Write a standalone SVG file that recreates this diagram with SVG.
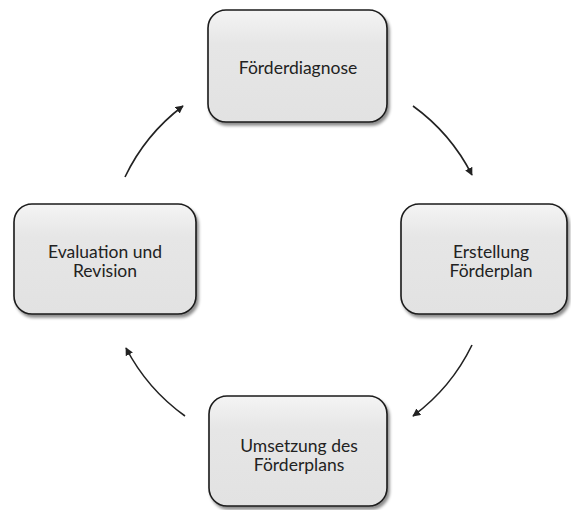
<svg xmlns="http://www.w3.org/2000/svg" width="571" height="510" viewBox="0 0 571 510">
<style>
.box{fill:url(#g);stroke:#1a1a1a;stroke-width:1.6;filter:url(#sh)}
.lbl{font-family:Lato,"Liberation Sans",sans-serif;font-size:17.5px;fill:#222;text-anchor:middle}
.arr{fill:none;stroke:#222;stroke-width:1.6;marker-end:url(#ah)}
</style>
<defs>
<linearGradient id="g" x1="0" y1="0" x2="0" y2="1">
<stop offset="0" stop-color="#f4f4f4"/>
<stop offset="0.3" stop-color="#e6e6e6"/>
<stop offset="1" stop-color="#e2e2e2"/>
</linearGradient>
<filter id="sh" x="-10%" y="-10%" width="125%" height="130%">
<feDropShadow dx="2" dy="3" stdDeviation="1.5" flood-color="#000" flood-opacity="0.45"/>
</filter>
<marker id="ah" viewBox="0 0 10 10" refX="9" refY="5" markerWidth="5" markerHeight="5" orient="auto" markerUnits="strokeWidth">
<path d="M0,0 L10,5 L0,10 z" fill="#222"/>
</marker>
</defs>
<g id="connectors">
<path class="arr" d="M413,106 A193,193 0 0 1 472,175"/>
<path class="arr" d="M472,345 A193,193 0 0 1 413,416"/>
<path class="arr" d="M185,416 A193,193 0 0 1 126,348"/>
<path class="arr" d="M125,177 A193,193 0 0 1 183,106"/>
</g>
<g id="n1">
<rect class="box" x="208" y="10" width="179" height="112" rx="18"/>
<text class="lbl" x="298" y="74">Förderdiagnose</text>
</g>
<g id="n2">
<rect class="box" x="401" y="204" width="166" height="110" rx="18"/>
<text class="lbl" x="491" y="258">Erstellung</text>
<text class="lbl" x="491" y="277">Förderplan</text>
</g>
<g id="n3">
<rect class="box" x="209" y="396" width="178" height="110" rx="18"/>
<text class="lbl" x="299" y="452">Umsetzung des</text>
<text class="lbl" x="299" y="471">Förderplans</text>
</g>
<g id="n4">
<rect class="box" x="14" y="204" width="182" height="110" rx="18"/>
<text class="lbl" x="105" y="258">Evaluation und</text>
<text class="lbl" x="105" y="277">Revision</text>
</g>
</svg>
